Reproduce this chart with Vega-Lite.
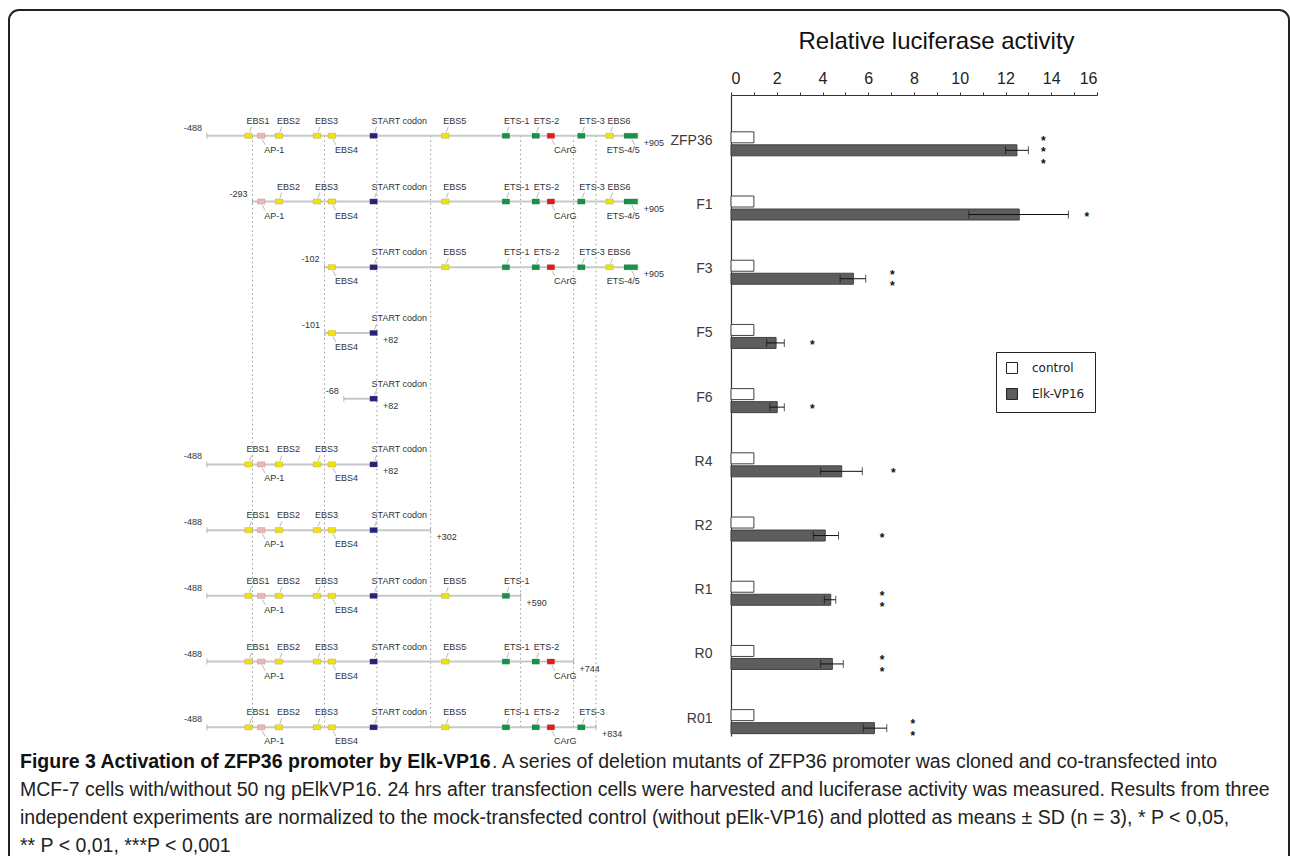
{
"$schema": "https://vega.github.io/schema/vega-lite/v6.json",
"width": 1280,
"height": 856,
"autosize": "none",
"padding": {"left": 9, "top": 10, "right": 1, "bottom": 0},
"background": "#ffffff",
"config": {"view": {"stroke": "#222222", "strokeWidth": 2, "cornerRadius": 10}, "font": "Liberation Sans"},
"datasets": {
 "luciferase": [
  {"construct": "ZFP36", "treatment": "control", "value": 1},
  {"construct": "ZFP36", "treatment": "Elk-VP16", "value": 12.5, "lo": 12.0, "hi": 13.0},
  {"construct": "F1", "treatment": "control", "value": 1},
  {"construct": "F1", "treatment": "Elk-VP16", "value": 12.6, "lo": 10.4, "hi": 14.75},
  {"construct": "F3", "treatment": "control", "value": 1},
  {"construct": "F3", "treatment": "Elk-VP16", "value": 5.35, "lo": 4.77, "hi": 5.89},
  {"construct": "F5", "treatment": "control", "value": 1},
  {"construct": "F5", "treatment": "Elk-VP16", "value": 1.97, "lo": 1.56, "hi": 2.33},
  {"construct": "F6", "treatment": "control", "value": 1},
  {"construct": "F6", "treatment": "Elk-VP16", "value": 2.02, "lo": 1.7, "hi": 2.33},
  {"construct": "R4", "treatment": "control", "value": 1},
  {"construct": "R4", "treatment": "Elk-VP16", "value": 4.84, "lo": 3.92, "hi": 5.74},
  {"construct": "R2", "treatment": "control", "value": 1},
  {"construct": "R2", "treatment": "Elk-VP16", "value": 4.12, "lo": 3.6, "hi": 4.7},
  {"construct": "R1", "treatment": "control", "value": 1},
  {"construct": "R1", "treatment": "Elk-VP16", "value": 4.36, "lo": 4.08, "hi": 4.58},
  {"construct": "R0", "treatment": "control", "value": 1},
  {"construct": "R0", "treatment": "Elk-VP16", "value": 4.43, "lo": 3.92, "hi": 4.91},
  {"construct": "R01", "treatment": "control", "value": 1},
  {"construct": "R01", "treatment": "Elk-VP16", "value": 6.27, "lo": 5.78, "hi": 6.81}
 ],
 "significance": [
  {"construct": "ZFP36", "treatment": "Elk-VP16", "stars": "***", "at": 13.65},
  {"construct": "F1", "treatment": "Elk-VP16", "stars": "*", "at": 15.55},
  {"construct": "F3", "treatment": "Elk-VP16", "stars": "**", "at": 7.05},
  {"construct": "F5", "treatment": "Elk-VP16", "stars": "*", "at": 3.55},
  {"construct": "F6", "treatment": "Elk-VP16", "stars": "*", "at": 3.55},
  {"construct": "R4", "treatment": "Elk-VP16", "stars": "*", "at": 7.1},
  {"construct": "R2", "treatment": "Elk-VP16", "stars": "*", "at": 6.6},
  {"construct": "R1", "treatment": "Elk-VP16", "stars": "**", "at": 6.6},
  {"construct": "R0", "treatment": "Elk-VP16", "stars": "**", "at": 6.6},
  {"construct": "R01", "treatment": "Elk-VP16", "stars": "**", "at": 7.95}
 ],
 "constructs": [
  {"construct": "ZFP36", "start": -488, "end": 905, "sites": ["EBS1", "AP-1", "EBS2", "EBS3", "EBS4", "START codon", "EBS5", "ETS-1", "ETS-2", "CArG", "ETS-3", "EBS6", "ETS-4/5"]},
  {"construct": "F1", "start": -293, "end": 905, "sites": ["AP-1", "EBS2", "EBS3", "EBS4", "START codon", "EBS5", "ETS-1", "ETS-2", "CArG", "ETS-3", "EBS6", "ETS-4/5"]},
  {"construct": "F3", "start": -102, "end": 905, "sites": ["EBS4", "START codon", "EBS5", "ETS-1", "ETS-2", "CArG", "ETS-3", "EBS6", "ETS-4/5"]},
  {"construct": "F5", "start": -101, "end": 82, "sites": ["EBS4", "START codon"]},
  {"construct": "F6", "start": -68, "end": 82, "sites": ["START codon"]},
  {"construct": "R4", "start": -488, "end": 82, "sites": ["EBS1", "AP-1", "EBS2", "EBS3", "EBS4", "START codon"]},
  {"construct": "R2", "start": -488, "end": 302, "sites": ["EBS1", "AP-1", "EBS2", "EBS3", "EBS4", "START codon"]},
  {"construct": "R1", "start": -488, "end": 590, "sites": ["EBS1", "AP-1", "EBS2", "EBS3", "EBS4", "START codon", "EBS5", "ETS-1"]},
  {"construct": "R0", "start": -488, "end": 744, "sites": ["EBS1", "AP-1", "EBS2", "EBS3", "EBS4", "START codon", "EBS5", "ETS-1", "ETS-2", "CArG"]},
  {"construct": "R01", "start": -488, "end": 834, "sites": ["EBS1", "AP-1", "EBS2", "EBS3", "EBS4", "START codon", "EBS5", "ETS-1", "ETS-2", "CArG", "ETS-3"]}
 ],
 "features": [
  {"name": "EBS1", "pos": -310, "kind": "EBS", "n": 1, "side": "above"},
  {"name": "AP-1", "pos": -270, "kind": "AP-1", "n": 1, "side": "below"},
  {"name": "EBS2", "pos": -223, "kind": "EBS", "n": 1, "side": "above"},
  {"name": "EBS3", "pos": -122, "kind": "EBS", "n": 1, "side": "above"},
  {"name": "EBS4", "pos": -89, "kind": "EBS", "n": 1, "side": "below"},
  {"name": "START codon", "pos": 67, "kind": "START codon", "n": 1, "side": "above"},
  {"name": "EBS5", "pos": 349, "kind": "EBS", "n": 1, "side": "above"},
  {"name": "ETS-1", "pos": 543, "kind": "ETS", "n": 1, "side": "above"},
  {"name": "ETS-2", "pos": 634, "kind": "ETS", "n": 1, "side": "above"},
  {"name": "CArG", "pos": 678, "kind": "CArG", "n": 1, "side": "below"},
  {"name": "ETS-3", "pos": 775, "kind": "ETS", "n": 1, "side": "above"},
  {"name": "EBS6", "pos": 857, "kind": "EBS", "n": 1, "side": "above"},
  {"name": "ETS-4/5", "pos": 893, "kind": "ETS", "n": 2, "side": "below-left"}
 ],
 "guides": [{"pos": -293}, {"pos": -102}, {"pos": 82}, {"pos": 302}, {"pos": 590}, {"pos": 744}, {"pos": 834}],
 "caption": [
  {"line": 1, "style": "bold", "text": "Figure 3 Activation of ZFP36 promoter by Elk-VP16"},
  {"line": 1, "style": "cont", "text": ". A series of deletion mutants of ZFP36 promoter was cloned and co-transfected into"},
  {"line": 2, "style": "normal", "text": "MCF-7 cells with/without 50 ng pElkVP16. 24 hrs after transfection cells were harvested and luciferase activity was measured. Results from three"},
  {"line": 3, "style": "normal", "text": "independent experiments are normalized to the mock-transfected control (without pElk-VP16) and plotted as means ± SD (n = 3), * P < 0,05,"},
  {"line": 4, "style": "normal", "text": "** P < 0,01, ***P < 0,001"}
 ]
},
"resolve": {"scale": {"x": "independent", "y": "independent", "color": "independent", "fill": "independent", "shape": "independent"}},
"layer": [
 {
  "data": {"name": "luciferase"},
  "layer": [
   {
    "mark": {"type": "bar", "stroke": "#404040", "strokeWidth": 1},
    "encoding": {
     "y": {"field": "construct", "type": "nominal",
       "scale": {"type": "band", "domain": ["ZFP36","F1","F3","F5","F6","R4","R2","R1","R0","R01"], "range": [85, 726], "paddingInner": 0.626, "paddingOuter": 0.305, "align": 0.94},
       "axis": {"orient": "left", "offset": -722, "title": null, "ticks": false, "grid": false, "domainColor": "#333333", "domainWidth": 1.2, "labelFontSize": 14, "labelColor": "#3a3a3a", "labelPadding": 19, "labelOffset": -3, "labelFont": "Liberation Sans"}},
     "yOffset": {"field": "treatment", "type": "nominal", "scale": {"domain": ["control", "Elk-VP16"], "paddingInner": 0.154, "paddingOuter": 0}},
     "x": {"field": "value", "type": "quantitative",
       "scale": {"domain": [0, 16], "range": [722, 1088], "nice": false},
       "axis": {"orient": "top", "offset": -85, "values": [0,1,2,3,4,5,6,7,8,9,10,11,12,13,14,15,16], "format": "d", "labelExpr": "datum.value % 2 === 0 ? datum.label : ''", "labelOverlap": false, "grid": false, "domainColor": "#333333", "domainWidth": 1.2, "tickColor": "#333333", "tickSize": 3, "labelFontSize": 16, "labelFont": "Liberation Sans", "labelColor": "#222222", "labelPadding": 6, "title": "Relative luciferase activity", "titleFontSize": 24, "titleFontWeight": "normal", "titleFont": "Liberation Sans", "titleColor": "#111111", "titleX": 927, "titleY": -47, "titleBaseline": "alphabetic", "titleAlign": "center"}},
     "fill": {"field": "treatment", "type": "nominal", "scale": {"domain": ["control", "Elk-VP16"], "range": ["#ffffff", "#5d5d5d"]},
       "legend": {"title": null, "orient": "none", "legendX": 987, "legendY": 342, "direction": "vertical", "symbolType": "square", "symbolSize": 120, "symbolStrokeColor": "#222222", "symbolStrokeWidth": 1, "labelFontSize": 12, "labelFont": "DejaVu Sans", "labelColor": "#222222", "labelOffset": 14, "strokeColor": "#222222", "padding": 10, "rowPadding": 10}}
    }
   },
   {
    "transform": [{"filter": "isValid(datum.lo)"}],
    "mark": {"type": "rule", "color": "#111111", "strokeWidth": 1},
    "encoding": {
     "y": {"field": "construct", "type": "nominal"},
     "yOffset": {"field": "treatment", "type": "nominal"},
     "x": {"field": "lo", "type": "quantitative"},
     "x2": {"field": "hi"}
    }
   },
   {
    "transform": [{"filter": "isValid(datum.lo)"}],
    "mark": {"type": "tick", "color": "#111111", "thickness": 1, "size": 8},
    "encoding": {
     "y": {"field": "construct", "type": "nominal"},
     "yOffset": {"field": "treatment", "type": "nominal"},
     "x": {"field": "lo", "type": "quantitative"}
    }
   },
   {
    "transform": [{"filter": "isValid(datum.hi)"}],
    "mark": {"type": "tick", "color": "#111111", "thickness": 1, "size": 8},
    "encoding": {
     "y": {"field": "construct", "type": "nominal"},
     "yOffset": {"field": "treatment", "type": "nominal"},
     "x": {"field": "hi", "type": "quantitative"}
    }
   },
   {
    "data": {"name": "significance"},
    "mark": {"type": "text", "fontWeight": "bold", "fontSize": 12, "color": "#111111", "align": "center", "baseline": "middle", "lineBreak": {"expr": "regexp('(?!^)')"}, "lineHeight": 11.5, "dy": {"expr": "2 - (length(datum.stars) - 1) * 5.75"}},
    "encoding": {
     "y": {"field": "construct", "type": "nominal"},
     "yOffset": {"field": "treatment", "type": "nominal"},
     "x": {"field": "at", "type": "quantitative"},
     "text": {"field": "stars"}
    }
   }
  ]
 },
 {
  "data": {"name": "constructs"},
  "layer": [
   {
    "data": {"name": "guides"},
    "mark": {"type": "rule", "color": "#9a9a9a", "strokeWidth": 1, "strokeDash": [1.5, 3]},
    "encoding": {
     "x": {"field": "pos", "type": "quantitative", "axis": null, "scale": {"domain": [-488, -293, -102, -68, 82, 302, 590, 744, 834, 905], "range": [197.9, 243.5, 315.5, 334.8, 367.9, 421.6, 511.6, 564.6, 587, 628.8], "nice": false, "zero": false}},
     "y": {"datum": "ZFP36", "type": "nominal", "axis": null, "scale": {"type": "point", "domain": ["ZFP36","F1","F3","F5","F6","R4","R2","R1","R0","R01"], "range": [125.8, 717.3], "padding": 0}},
     "y2": {"datum": "R01"}
    }
   },
   {
    "mark": {"type": "rule", "color": "#c8c8c8", "strokeWidth": 2},
    "encoding": {
     "x": {"field": "start", "type": "quantitative", "axis": null, "scale": {"domain": [-488, -293, -102, -68, 82, 302, 590, 744, 834, 905], "range": [197.9, 243.5, 315.5, 334.8, 367.9, 421.6, 511.6, 564.6, 587, 628.8], "nice": false, "zero": false}},
     "x2": {"field": "end"},
     "y": {"field": "construct", "type": "nominal", "axis": null, "scale": {"type": "point", "domain": ["ZFP36","F1","F3","F5","F6","R4","R2","R1","R0","R01"], "range": [125.8, 717.3], "padding": 0}}
    }
   },
   {
    "mark": {"type": "tick", "color": "#a0a0a0", "thickness": 1, "size": 6},
    "encoding": {
     "x": {"field": "start", "type": "quantitative", "axis": null},
     "y": {"field": "construct", "type": "nominal", "axis": null}
    }
   },
   {
    "mark": {"type": "tick", "color": "#a0a0a0", "thickness": 1, "size": 6},
    "encoding": {
     "x": {"field": "end", "type": "quantitative", "axis": null},
     "y": {"field": "construct", "type": "nominal", "axis": null}
    }
   },
   {
    "transform": [{"calculate": "(datum.start > 0 ? '+' : '') + datum.start", "as": "startText"}],
    "mark": {"type": "text", "fontSize": 9, "color": "#333333", "align": "right", "baseline": "middle", "dx": -5, "dy": -8},
    "encoding": {
     "x": {"field": "start", "type": "quantitative", "axis": null},
     "y": {"field": "construct", "type": "nominal", "axis": null},
     "text": {"field": "startText"}
    }
   },
   {
    "transform": [{"calculate": "(datum.end > 0 ? '+' : '') + datum.end", "as": "endText"}],
    "mark": {"type": "text", "fontSize": 9, "color": "#333333", "align": "left", "baseline": "middle", "dx": 6, "dy": 7},
    "encoding": {
     "x": {"field": "end", "type": "quantitative", "axis": null},
     "y": {"field": "construct", "type": "nominal", "axis": null},
     "text": {"field": "endText"}
    }
   },
   {
    "transform": [
     {"flatten": ["sites"], "as": ["site"]},
     {"lookup": "site", "from": {"data": {"name": "features"}, "key": "name", "fields": ["pos", "kind", "n", "side"]}}
    ],
    "layer": [
     {
      "transform": [{"filter": "datum.side === 'above'"}],
      "mark": {"type": "rule", "color": "#a8a8a8", "strokeWidth": 0.8, "xOffset": 1, "x2Offset": 3, "yOffset": -3.5, "y2Offset": -9},
      "encoding": {
       "x": {"field": "pos", "type": "quantitative", "axis": null},
       "x2": {"field": "pos"},
       "y": {"field": "construct", "type": "nominal", "axis": null},
       "y2": {"field": "construct"}
      }
     },
     {
      "transform": [{"filter": "datum.side !== 'above'"}],
      "mark": {"type": "rule", "color": "#a8a8a8", "strokeWidth": 0.8, "xOffset": 1, "x2Offset": 4, "yOffset": 3.5, "y2Offset": 9},
      "encoding": {
       "x": {"field": "pos", "type": "quantitative", "axis": null},
       "x2": {"field": "pos"},
       "y": {"field": "construct", "type": "nominal", "axis": null},
       "y2": {"field": "construct"}
      }
     },
     {
      "mark": {"type": "point", "filled": true, "opacity": 1, "size": 56, "stroke": "#555555", "strokeWidth": 0.3, "strokeOpacity": 0.6},
      "encoding": {
       "x": {"field": "pos", "type": "quantitative", "axis": null},
       "y": {"field": "construct", "type": "nominal", "axis": null},
       "color": {"field": "kind", "type": "nominal", "legend": null, "scale": {"domain": ["EBS", "AP-1", "START codon", "ETS", "CArG"], "range": ["#f3e10f", "#f2b4b4", "#25237a", "#149447", "#e51b1b"]}},
       "shape": {"field": "n", "type": "nominal", "legend": null, "scale": {"domain": [1, 2], "range": ["M-1,-0.7L1,-0.7L1,0.7L-1,0.7Z", "M-1.8,-0.7L1.8,-0.7L1.8,0.7L-1.8,0.7Z"]}}
      }
     },
     {
      "transform": [{"filter": "datum.side === 'above'"}],
      "mark": {"type": "text", "fontSize": 9, "color": "#333333", "align": "left", "baseline": "middle", "dx": -2, "dy": -15},
      "encoding": {
       "x": {"field": "pos", "type": "quantitative", "axis": null},
       "y": {"field": "construct", "type": "nominal", "axis": null},
       "text": {"field": "site"}
      }
     },
     {
      "transform": [{"filter": "datum.side === 'below'"}],
      "mark": {"type": "text", "fontSize": 9, "color": "#333333", "align": "left", "baseline": "middle", "dx": 3, "dy": 14},
      "encoding": {
       "x": {"field": "pos", "type": "quantitative", "axis": null},
       "y": {"field": "construct", "type": "nominal", "axis": null},
       "text": {"field": "site"}
      }
     },
     {
      "transform": [{"filter": "datum.side === 'below-left'"}],
      "mark": {"type": "text", "fontSize": 9, "color": "#333333", "align": "right", "baseline": "middle", "dx": 9, "dy": 14},
      "encoding": {
       "x": {"field": "pos", "type": "quantitative", "axis": null},
       "y": {"field": "construct", "type": "nominal", "axis": null},
       "text": {"field": "site"}
      }
     }
    ]
   }
  ]
 },
 {
  "data": {"name": "caption"},
  "layer": [
   {
    "transform": [{"filter": "datum.style === 'bold'"}],
    "mark": {"type": "text", "align": "left", "baseline": "middle", "fontWeight": "bold", "fontSize": 19.5, "font": "Liberation Sans", "color": "#111111"},
    "encoding": {
     "x": {"datum": 0, "type": "quantitative", "axis": null, "scale": {"domain": [0, 1], "range": [11, 1279]}},
     "y": {"field": "line", "type": "ordinal", "axis": null, "scale": {"type": "point", "domain": [1, 2, 3, 4], "range": [752, 836], "padding": 0}},
     "text": {"field": "text"}
    }
   },
   {
    "transform": [{"filter": "datum.style === 'cont'"}],
    "mark": {"type": "text", "align": "left", "baseline": "middle", "fontSize": 19.5, "font": "Liberation Sans", "color": "#222222", "dx": 472},
    "encoding": {
     "x": {"datum": 0, "type": "quantitative", "axis": null},
     "y": {"field": "line", "type": "ordinal", "axis": null},
     "text": {"field": "text"}
    }
   },
   {
    "transform": [{"filter": "datum.style === 'normal'"}],
    "mark": {"type": "text", "align": "left", "baseline": "middle", "fontSize": 19.5, "font": "Liberation Sans", "color": "#222222"},
    "encoding": {
     "x": {"datum": 0, "type": "quantitative", "axis": null},
     "y": {"field": "line", "type": "ordinal", "axis": null},
     "text": {"field": "text"}
    }
   }
  ]
 }
]
}
